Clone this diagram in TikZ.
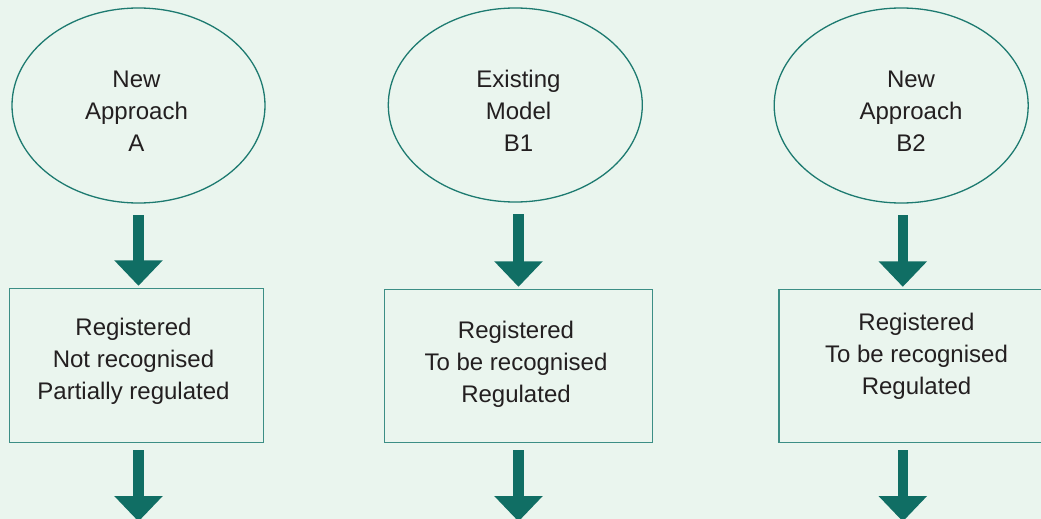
\documentclass[tikz,border=0pt]{standalone}
\usepackage{fontspec}
\setmainfont{Liberation Sans}
\usetikzlibrary{arrows.meta,shapes.geometric}
\definecolor{bgc}{RGB}{234,245,238}
\definecolor{arrc}{RGB}{16,110,100}
\definecolor{ellc}{RGB}{29,122,112}
\definecolor{boxc}{RGB}{60,142,133}
\definecolor{txtc}{RGB}{35,31,32}
\newcommand{\tlines}[3]{\rule{0pt}{18pt}#1\\#2\\\rule[-18pt]{0pt}{18pt}#3}
\tikzset{
  ovalnode/.style={draw=ellc, line width=1.3pt, ellipse, inner sep=0pt},
  boxnode/.style={draw=boxc, line width=1.4pt, rectangle, inner sep=0pt},
  lbl/.style={align=center, inner sep=0pt, text=txtc, font=\fontsize{24}{32}\selectfont},
  bigarrow/.style={draw=arrc, line width=10.4pt, -{Triangle[width=47pt,length=25.5pt]}, arrc},
}
\begin{document}
\begin{tikzpicture}[x=1pt,y=-1pt]
\fill[bgc] (0,0) rectangle (1041,519);
\useasboundingbox (0,0) rectangle (1041,519);
\clip (0,0) rectangle (1041,519);
% ellipses
\node[ovalnode, minimum width=253pt, minimum height=195pt] (ellA) at (138.5,105.5) {};
\node[ovalnode, minimum width=254pt, minimum height=194pt] (ellB) at (515.3,105) {};
\node[ovalnode, minimum width=254pt, minimum height=195pt] (ellC) at (901.2,105.5) {};
\node[lbl] (tA) at (136.5,119.3) {\tlines{New}{Approach}{A}};
\node[lbl] (tB) at (518.5,119.3) {\tlines{Existing}{Model}{B1}};
\node[lbl] (tC) at (911,119.3) {\tlines{New}{Approach}{B2}};
% boxes
\node[boxnode, minimum width=254pt, minimum height=154pt] (boxA) at (136.3,365.3) {};
\node[boxnode, minimum width=268pt, minimum height=153.4pt] (boxB) at (518.3,366) {};
\node[boxnode, minimum width=270pt, minimum height=153.4pt] (boxC) at (914,366) {};
\node[lbl] (sA) at (133.5,367.7) {\tlines{Registered}{Not recognised}{Partially regulated}};
\node[lbl] (sB) at (516,370.7) {\tlines{Registered}{To be recognised}{Regulated}};
\node[lbl] (sC) at (916.5,362) {\tlines{Registered}{To be recognised}{Regulated}};
% arrow positions
\coordinate (xA) at (138.5,0);
\coordinate (xB) at (518.5,0);
\coordinate (xC) at (902.8,0);
\coordinate (endA) at (138.5,521.5);
\coordinate (endB) at (518.5,521.5);
\coordinate (endC) at (902.8,521.5);
% upper arrows
\draw[bigarrow, shorten <=11.7pt, shorten >=1.8pt] (xA |- ellA.south) -- (xA |- boxA.north);
\draw[bigarrow, shorten <=11.7pt, shorten >=1.8pt] (xB |- ellB.south) -- (xB |- boxB.north);
\draw[bigarrow, shorten <=11.7pt, shorten >=1.8pt] (xC |- ellC.south) -- (xC |- boxC.north);
% lower arrows
\draw[bigarrow, shorten <=7pt] (xA |- boxA.south) -- (endA);
\draw[bigarrow, shorten <=7pt] (xB |- boxB.south) -- (endB);
\draw[bigarrow, shorten <=7pt] (xC |- boxC.south) -- (endC);
\end{tikzpicture}
\end{document}
